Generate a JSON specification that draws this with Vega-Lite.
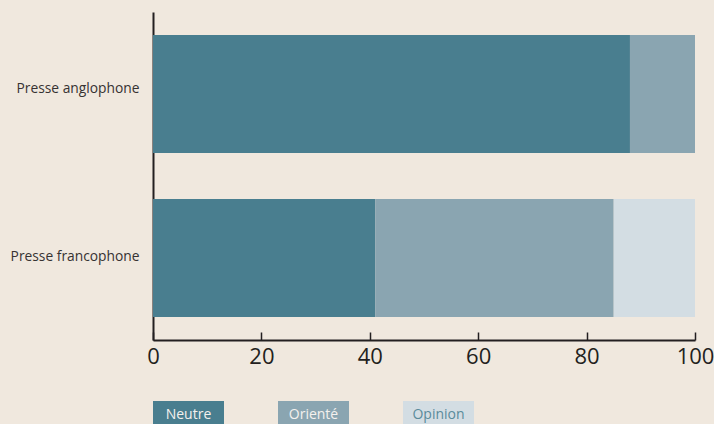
{
  "$schema": "https://vega.github.io/schema/vega-lite/v6.json",
  "background": "#f0e8de",
  "padding": {"left": 10, "top": 12, "right": 0, "bottom": 0},
  "bounds": "flush",
  "spacing": 61,
  "config": {
    "view": {"stroke": null},
    "font": "Open Sans"
  },
  "datasets": {
    "parts": [
      {"presse": "Presse anglophone", "type": "Neutre", "pct": 88},
      {"presse": "Presse anglophone", "type": "Orienté", "pct": 12},
      {"presse": "Presse francophone", "type": "Neutre", "pct": 41},
      {"presse": "Presse francophone", "type": "Orienté", "pct": 44},
      {"presse": "Presse francophone", "type": "Opinion", "pct": 15}
    ],
    "legende": [
      {"type": "Neutre"},
      {"type": "Orienté"},
      {"type": "Opinion"}
    ]
  },
  "vconcat": [
    {
      "width": 542,
      "height": 328,
      "data": {"name": "parts"},
      "transform": [
        {"calculate": "indexof(['Neutre','Orienté','Opinion'], datum.type)", "as": "rang"}
      ],
      "mark": {"type": "bar"},
      "encoding": {
        "y": {
          "field": "presse",
          "type": "nominal",
          "scale": {"paddingInner": 0.28, "paddingOuter": 0.14},
          "axis": {
            "title": null,
            "ticks": false,
            "labelFontSize": 13.8,
            "labelColor": "#363232",
            "labelPadding": 14,
            "labelOffset": {"condition": {"test": "datum.value === 'Presse anglophone'", "value": -5}, "value": -1},
            "domainColor": "#231f20",
            "domainWidth": 2
          }
        },
        "x": {
          "field": "pct",
          "type": "quantitative",
          "stack": "zero",
          "scale": {"domain": [0, 100], "nice": false},
          "axis": {
            "title": null,
            "grid": false,
            "values": [0, 20, 40, 60, 80, 100],
            "labelFlush": false,
            "tickSize": -8,
            "tickColor": "#231f20",
            "tickWidth": 1.5,
            "labelFontSize": 22,
            "labelColor": "#231f20",
            "labelPadding": 14,
            "domainColor": "#231f20",
            "domainWidth": 2
          }
        },
        "color": {
          "field": "type",
          "type": "nominal",
          "scale": {"domain": ["Neutre", "Orienté", "Opinion"], "range": ["#497e8f", "#8aa5b1", "#d3dde3"]},
          "legend": null
        },
        "order": {"field": "rang", "type": "quantitative"}
      }
    },
    {
      "width": 321,
      "height": 26,
      "data": {"name": "legende"},
      "encoding": {
        "x": {
          "field": "type",
          "type": "nominal",
          "sort": ["Neutre", "Orienté", "Opinion"],
          "scale": {"paddingInner": 0.432, "paddingOuter": 0},
          "axis": null
        }
      },
      "layer": [
        {
          "mark": {"type": "bar"},
          "encoding": {
            "color": {
              "field": "type",
              "type": "nominal",
              "scale": {"domain": ["Neutre", "Orienté", "Opinion"], "range": ["#497e8f", "#8aa5b1", "#d3dde3"]},
              "legend": null
            }
          }
        },
        {
          "mark": {"type": "text", "fontSize": 14, "baseline": "alphabetic", "align": "center", "y": 18},
          "encoding": {
            "text": {"field": "type"},
            "color": {
              "condition": {"test": "datum.type === 'Opinion'", "value": "#5a8b9b"},
              "value": "#f4f1ee"
            }
          }
        }
      ]
    }
  ]
}
